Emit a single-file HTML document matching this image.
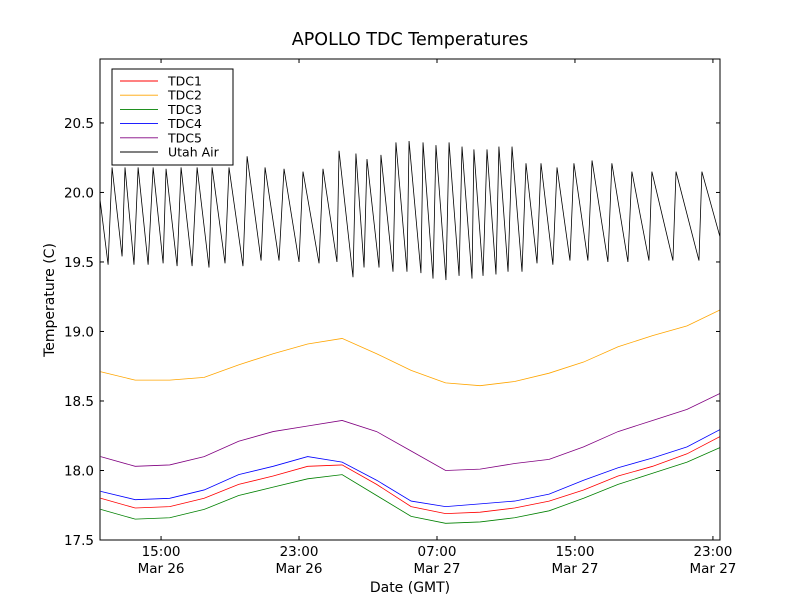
<!DOCTYPE html>
<html><head><meta charset="utf-8"><style>
body{margin:0;background:#fff;}
svg text{font-family:"DejaVu Sans","Liberation Sans",sans-serif;}
</style></head><body>
<svg id="chart" width="800" height="600" xmlns="http://www.w3.org/2000/svg">
<rect width="800" height="600" fill="#fff"/>
<text x="410" y="45" font-size="17.5" text-anchor="middle">APOLLO TDC Temperatures</text>
<defs><clipPath id="clip"><rect x="100" y="59" width="620" height="481"/></clipPath></defs>
<g id="series" clip-path="url(#clip)"></g>
<rect x="100" y="59" width="620" height="481" fill="none" stroke="#000" stroke-width="1"/>
<g id="axes"></g>
<text x="410" y="592" font-size="14" text-anchor="middle">Date (GMT)</text>
<text transform="translate(54,300) rotate(-90)" font-size="14" text-anchor="middle">Temperature (C)</text>
<g id="legend"></g>
</svg>
<script>
// hours since Mar 26 00:00
const gridHours = [11.5,13.5,15.5,17.5,19.5,21.5,23.5,25.5,27.5,29.5,31.5,33.5,35.5,37.5,39.5,41.5,43.5,45.5,47.5];
const tdc1 = [17.80,17.73,17.74,17.80,17.90,17.96,18.03,18.04,17.90,17.74,17.69,17.70,17.73,17.78,17.86,17.96,18.03,18.12,18.25];
const tdc2 = [18.71,18.65,18.65,18.67,18.76,18.84,18.91,18.95,18.84,18.72,18.63,18.61,18.64,18.70,18.78,18.89,18.97,19.04,19.16];
const tdc3 = [17.72,17.65,17.66,17.72,17.82,17.88,17.94,17.97,17.82,17.67,17.62,17.63,17.66,17.71,17.80,17.90,17.98,18.06,18.17];
const tdc4 = [17.85,17.79,17.80,17.86,17.97,18.03,18.10,18.06,17.93,17.78,17.74,17.76,17.78,17.83,17.93,18.02,18.09,18.17,18.30];
const tdc5 = [18.10,18.03,18.04,18.10,18.21,18.28,18.32,18.36,18.28,18.14,18.00,18.01,18.05,18.08,18.17,18.28,18.36,18.44,18.56];
const airHours = [11.46,11.93,12.16,12.74,12.91,13.43,13.67,14.25,14.54,15.12,15.29,15.93,16.16,16.80,17.09,17.78,17.96,18.71,18.94,19.75,19.99,20.80,21.03,21.84,22.13,23.00,23.23,24.16,24.39,25.20,25.32,26.13,26.30,26.77,26.94,27.64,27.75,28.45,28.62,29.26,29.38,30.07,30.19,30.77,30.94,31.52,31.70,32.28,32.45,33.03,33.14,33.67,33.90,34.42,34.59,35.12,35.35,35.93,36.16,36.80,37.03,37.72,37.96,38.71,38.94,39.75,39.99,40.91,41.14,42.07,42.30,43.29,43.46,44.68,44.86,46.19,46.36,47.41];
const airTemps = [19.95,19.48,20.18,19.54,20.18,19.48,20.18,19.48,20.18,19.49,20.17,19.47,20.18,19.47,20.18,19.46,20.18,19.49,20.18,19.47,20.26,19.51,20.18,19.51,20.17,19.50,20.15,19.49,20.17,19.50,20.30,19.39,20.28,19.46,20.24,19.46,20.27,19.43,20.36,19.43,20.37,19.42,20.36,19.38,20.34,19.37,20.36,19.40,20.33,19.38,20.31,19.40,20.31,19.41,20.33,19.43,20.33,19.43,20.21,19.49,20.21,19.48,20.18,19.51,20.21,19.51,20.23,19.50,20.21,19.50,20.15,19.51,20.15,19.51,20.15,19.51,20.15,19.68];
const yTicks = [17.5,18.0,18.5,19.0,19.5,20.0,20.5];
const xTickHours = [15,23,31,39,47];
const xTickTimes = ["15:00","23:00","07:00","15:00","23:00"];
const xTickDates = ["Mar 26","Mar 26","Mar 27","Mar 27","Mar 27"];
const seriesNames = ["TDC1","TDC2","TDC3","TDC4","TDC5","Utah Air"];
const seriesColors = ["#ff0000","#ffa500","#008000","#0000ff","#800080","#000000"];

const X0=100,X1=720,Y0=540,Y1=59;
const xMin=11.46,xMax=47.41,yMin=17.5,yMax=20.96;
function xs(h){return X0+(h-xMin)/(xMax-xMin)*(X1-X0);}
function ys(v){return Y0-(v-yMin)/(yMax-yMin)*(Y0-Y1);}
const NS="http://www.w3.org/2000/svg";
function mk(tag,attrs,parent){const e=document.createElementNS(NS,tag);for(const k in attrs)e.setAttribute(k,attrs[k]);parent.appendChild(e);return e;}

const sg=document.getElementById('series');
const sets=[[gridHours,tdc1],[gridHours,tdc2],[gridHours,tdc3],[gridHours,tdc4],[gridHours,tdc5],[airHours,airTemps]];
sets.forEach((s,i)=>{
  const d=s[0].map((h,j)=>(j?'L':'M')+xs(h).toFixed(2)+','+ys(s[1][j]).toFixed(2)).join(' ');
  const p=mk('path',{d:d,fill:'none',stroke:seriesColors[i],'stroke-width':0.8},sg);
  
  
});

const ax=document.getElementById('axes');
yTicks.forEach(v=>{
  const y=ys(v);
  mk('line',{x1:X0,x2:X0+4,y1:y,y2:y,stroke:'#000'},ax);
  mk('line',{x1:X1,x2:X1-4,y1:y,y2:y,stroke:'#000'},ax);
  const t=mk('text',{x:X0-6,y:y+5,'font-size':13.5,'text-anchor':'end'},ax);
  t.textContent=v.toFixed(1);
  
  
});
xTickHours.forEach((h,i)=>{
  const x=xs(h);
  mk('line',{x1:x,x2:x,y1:Y0,y2:Y0-4,stroke:'#000'},ax);
  mk('line',{x1:x,x2:x,y1:Y1,y2:Y1+4,stroke:'#000'},ax);
  const t=mk('text',{x:x,y:556,'font-size':13.5,'text-anchor':'middle'},ax);
  t.textContent=xTickTimes[i];
  
  
  const t2=mk('text',{x:x,y:573,'font-size':13.5,'text-anchor':'middle'},ax);
  t2.textContent=xTickDates[i];
  
  
});

const lg=document.getElementById('legend');
const box=mk('rect',{x:112,y:69,width:121,height:96,fill:'#fff',stroke:'#000'},lg);


seriesNames.forEach((n,i)=>{
  const y=81+i*14.2;
  mk('line',{x1:120,x2:158,y1:y,y2:y,stroke:seriesColors[i],'stroke-width':0.9},lg);
  const t=mk('text',{x:168,y:y+4.5,'font-size':12.5},lg);
  t.textContent=n;
  
  
});
</script>
</body></html>
